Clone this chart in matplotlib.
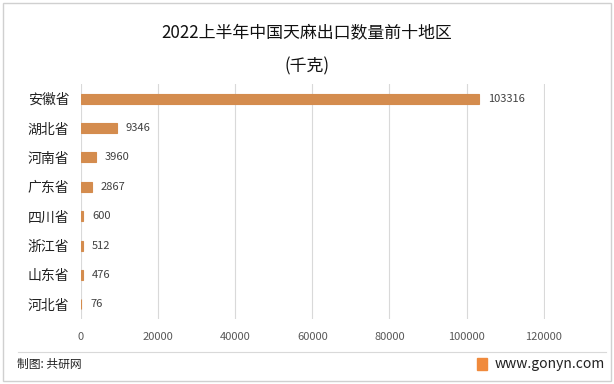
import matplotlib
matplotlib.use("Agg")
import matplotlib.pyplot as plt
from matplotlib.patches import Rectangle
from matplotlib.lines import Line2D

plt.rcParams['font.family'] = ['Noto Sans CJK SC', 'DejaVu Sans']

categories = ["安徽省", "湖北省", "河南省", "广东省", "四川省", "浙江省", "山东省", "河北省"]
values = [103316, 9346, 3960, 2867, 600, 512, 476, 76]
xticks = [0, 20000, 40000, 60000, 80000, 100000, 120000]
bar_color = "#D48C4E"

fig = plt.figure(figsize=(6.14, 3.84), dpi=100)
ax = fig.add_axes([81/614, 1 - 319/384, 464/614, 235/384])

y = list(range(len(categories)))
ax.barh(y, values, height=0.34, color=bar_color, edgecolor=bar_color, linewidth=0.8, zorder=3)
ax.set_ylim(len(categories) - 0.5, -0.5)
ax.set_xlim(0, 120000 * 1.003)
ax.set_xticks(xticks)
ax.set_xticklabels([str(t) for t in xticks], fontsize=8, color="#595959")
ax.tick_params(axis='both', length=0)
ax.tick_params(axis='x', pad=9)
ax.set_yticks(y)
ax.set_yticklabels(categories, fontsize=10, color="#222222")
ax.tick_params(axis='y', pad=8.5)
ax.xaxis.grid(True, color="#D9D9D9", linewidth=0.8, zorder=0)
for s in ax.spines.values():
    s.set_visible(False)

for yi, v in zip(y, values):
    ax.text(v + 2300, yi, str(v), va='center', ha='left', fontsize=8, color="#404040")

fig.text(0.5, 1 - 33/384, "2022上半年中国天麻出口数量前十地区", ha='center', va='center', fontsize=12.2, color="#111111")
fig.text(0.5, 1 - 66/384, "(千克)", ha='center', va='center', fontsize=12.2, color="#111111")

# separator and footer
fig.add_artist(Line2D([18/614, 606/614], [1 - 352/384, 1 - 352/384], color="#D9D9D9", linewidth=0.8))
fig.text(17/614, 1 - 364/384, "制图: 共研网", ha='left', va='center', fontsize=8.5, color="#222222")
fig.text(605/614, 1 - 364/384, "www.gonyn.com", ha='right', va='center', fontsize=10, color="#222222")
fig.add_artist(Rectangle((477/614, 1 - 370/384), 10/614, 12/384, color="#F08A3C", transform=fig.transFigure))

# outer border
fig.add_artist(Rectangle((3/614, 3/384), 608/614, 378/384, fill=False, edgecolor="#D0D0D0", linewidth=1, transform=fig.transFigure))

fig.savefig("out.png", dpi=100)
